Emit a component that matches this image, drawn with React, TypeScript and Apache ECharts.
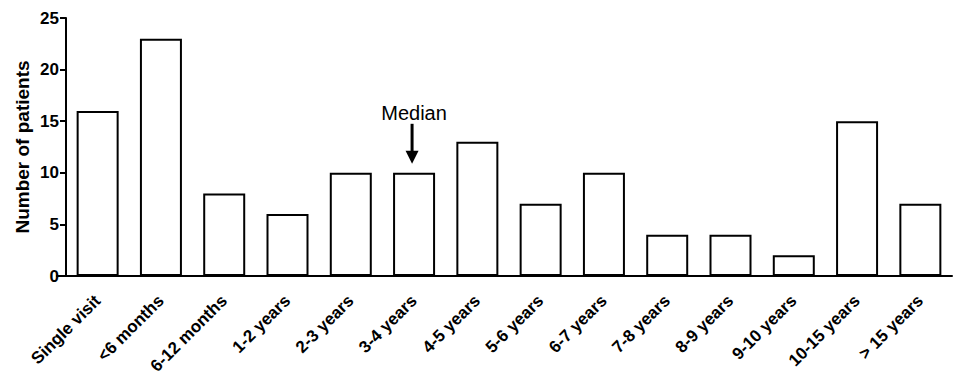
import React, { useEffect, useRef } from "react";
import * as echarts from "echarts";

const categories = [
  "Single visit",
  "<6 months",
  "6-12 months",
  "1-2 years",
  "2-3 years",
  "3-4 years",
  "4-5 years",
  "5-6 years",
  "6-7 years",
  "7-8 years",
  "8-9 years",
  "9-10 years",
  "10-15 years",
  "> 15 years",
];
const patients = [16, 23, 8, 6, 10, 10, 13, 7, 10, 4, 4, 2, 15, 7];
const yTicks = [0, 5, 10, 15, 20, 25];
const yAxisTitle = "Number of patients";
const medianCategory = "3-4 years";
const medianLabel = "Median";

const FONT = "'Liberation Sans', Arial, Helvetica, sans-serif";

export default function App() {
  const ref = useRef<HTMLDivElement>(null);

  useEffect(() => {
    if (!ref.current) return;
    const chart = echarts.init(ref.current, undefined, { renderer: "svg" });
    const medianIndex = categories.indexOf(medianCategory);
    chart.setOption({
      animation: false,
      backgroundColor: "#ffffff",
      grid: {
        left: 66,
        right: 3,
        top: 18,
        bottom: 106,
        containLabel: false,
        outerBoundsMode: "none",
      },
      xAxis: {
        type: "category",
        data: categories,
        boundaryGap: true,
        axisLine: { lineStyle: { color: "#000", width: 2 } },
        axisTick: {
          alignWithLabel: true,
          length: 8,
          lineStyle: { color: "#000", width: 2 },
        },
        axisLabel: {
          interval: 0,
          rotate: 45,
          margin: 22,
          color: "#000",
          fontFamily: FONT,
          fontWeight: "bold",
          fontSize: 17,
        },
      },
      yAxis: {
        type: "value",
        min: yTicks[0],
        max: yTicks[yTicks.length - 1],
        interval: yTicks[1] - yTicks[0],
        name: yAxisTitle,
        nameLocation: "middle",
        nameGap: 34,
        nameMoveOverlap: false,
        nameTextStyle: {
          color: "#000",
          fontFamily: FONT,
          fontWeight: "bold",
          fontSize: 19,
        },
        axisLine: { show: true, lineStyle: { color: "#000", width: 2 } },
        axisTick: { show: true, length: 6, lineStyle: { color: "#000", width: 2 } },
        axisLabel: {
          margin: 7,
          color: "#000",
          fontFamily: FONT,
          fontWeight: "bold",
          fontSize: 17,
        },
        splitLine: { show: false },
      },
      series: [
        {
          type: "bar",
          data: patients,
          barWidth: 42,
          itemStyle: { color: "#fff", borderColor: "#000", borderWidth: 2 },
        },
      ],
    });

    const tip = chart.convertToPixel({ seriesIndex: 0 }, [
      medianIndex,
      patients[medianIndex],
    ]) as number[];
    const origin = chart.convertToPixel({ seriesIndex: 0 }, [0, 0]) as number[];
    const gridLeft = 66;
    const ax = tip[0] - 2;
    const headBottom = tip[1] - 9;
    const headTop = headBottom - 13;
    const shaftTop = headTop - 27;
    chart.setOption({
      graphic: [
        {
          type: "line",
          shape: { x1: gridLeft - 10, y1: origin[1], x2: gridLeft, y2: origin[1] },
          style: { stroke: "#000", lineWidth: 2 },
        },
        {
          type: "line",
          shape: { x1: ax, y1: shaftTop, x2: ax, y2: headTop + 1 },
          style: { stroke: "#000", lineWidth: 3 },
        },
        {
          type: "polygon",
          shape: {
            points: [
              [ax - 6.5, headTop],
              [ax + 6.5, headTop],
              [ax, headBottom],
            ],
          },
          style: { fill: "#000" },
        },
        {
          type: "text",
          x: ax + 2,
          y: shaftTop - 11,
          style: {
            text: medianLabel,
            fill: "#000",
            font: `20px ${FONT}`,
            align: "center",
            verticalAlign: "middle",
          },
        },
      ],
    });

    return () => chart.dispose();
  }, []);

  return (
    <div
      ref={ref}
      style={{ position: "fixed", left: 0, top: 0, width: 955, height: 382 }}
    />
  );
}
